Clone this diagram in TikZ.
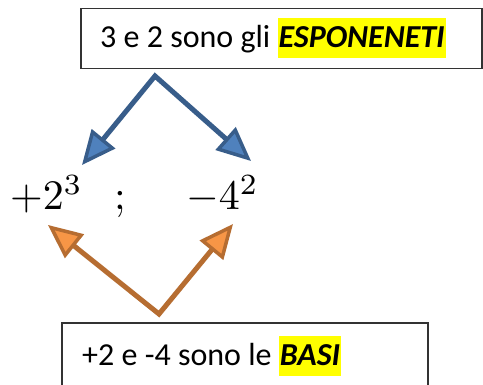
\documentclass[tikz,border=0pt]{standalone}
\usepackage{graphicx}
\usepackage{fontspec}
\setmainfont{Carlito}
\usetikzlibrary{arrows.meta}
\definecolor{bluedark}{RGB}{56,93,138}
\definecolor{bluefill}{RGB}{79,129,189}
\definecolor{orgdark}{RGB}{182,109,49}
\definecolor{orgfill}{RGB}{247,150,70}
\definecolor{hlyellow}{RGB}{255,255,0}
\newcommand\hlbox[1]{{\setlength{\fboxsep}{0pt}\colorbox{hlyellow}{\rule[-10pt]{0pt}{40pt}\kern1pt#1\kern1pt}}}
\newcommand\bigmath[1]{\scalebox{4.2}{\normalsize$#1$}}
\begin{document}
\begin{tikzpicture}[x=1pt,y=-1pt,
  boxline/.style={draw=black!80, line width=1.5pt},
  txt/.style={inner sep=0pt, anchor=base west, font=\fontsize{32}{38}\selectfont},
  mathtxt/.style={inner sep=0pt, anchor=base west},
  bluearrow/.style={draw=bluedark, line width=5pt, line join=miter,
    arrows={Triangle[length=34pt,width=30pt,line width=3.5pt,fill=bluefill]-Triangle[length=34pt,width=30pt,line width=3.5pt,fill=bluefill]}},
  orgarrow/.style={draw=orgdark, line width=5pt, line join=miter,
    arrows={Triangle[length=34pt,width=30pt,line width=3.5pt,fill=orgfill]-Triangle[length=34pt,width=30pt,line width=3.5pt,fill=orgfill]}},
]
\useasboundingbox (0,0) rectangle (483,385);
\fill[white] (0,0) rectangle (483,385);

% top box
\node[boxline, minimum width=401pt, minimum height=60pt, anchor=north west, inner sep=0pt] (topbox) at (80,8) {};
\node[txt] (toptext) at (100,48) {3 e 2 sono gli \hlbox{\textbf{\textit{ESPONENETI}}}};

% math
\node[mathtxt] (baseA) at (10,210) {\bigmath{+2^{3}}};
\node[mathtxt] (semi) at (114,210) {\bigmath{;}};
\node[mathtxt] (baseB) at (186,210) {\bigmath{-4^{2}}};

% blue arrows
\coordinate (bapex) at (155,76);
\coordinate (btipL) at (82,165);
\coordinate (btipR) at (251,161);
\draw[bluearrow] (btipL) -- (bapex) -- (btipR);

% orange arrows
\coordinate (oapex) at (159,314);
\coordinate (otipL) at (48,225);
\coordinate (otipR) at (233,224);
\draw[orgarrow] (otipL) -- (oapex) -- (otipR);

% bottom box (cut by the picture edge)
\coordinate (bbBL) at (62,386);
\coordinate (bbTL) at (62,323);
\coordinate (bbTR) at (428,323);
\coordinate (bbBR) at (428,386);
\draw[boxline] (bbBL) -- (bbTL) -- (bbTR) -- (bbBR);
\node[txt] (bottext) at (82,366) {+2 e -4 sono le \hlbox{\textbf{\textit{BASI}}}};
\end{tikzpicture}
\end{document}
